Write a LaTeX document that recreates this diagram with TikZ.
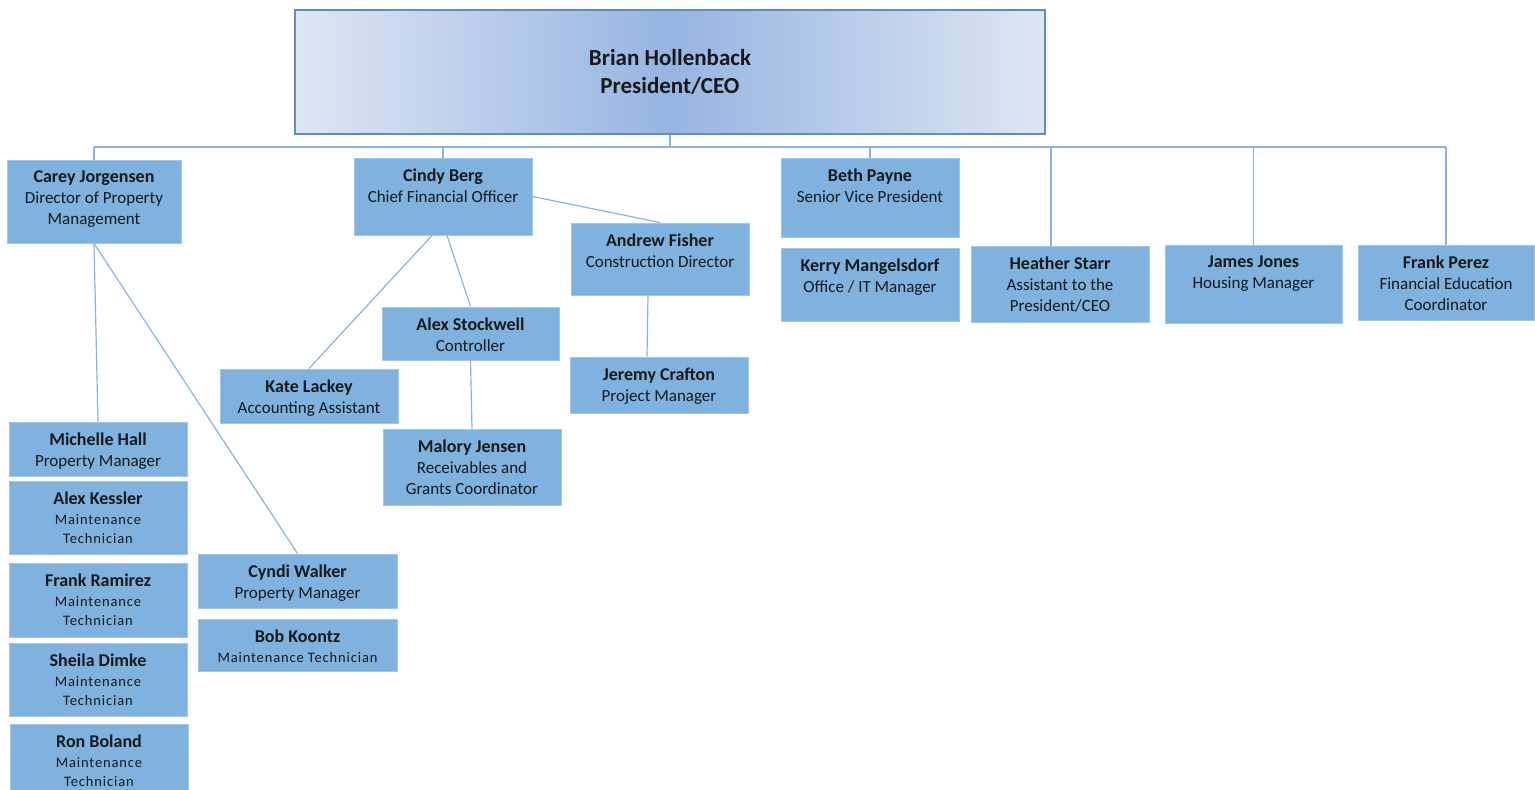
\documentclass[tikz,border=0pt]{standalone}
\usepackage{fontspec}
\setmainfont{Carlito}
\newfontfamily\spacedfont[LetterSpace=6]{Carlito}
\usetikzlibrary{fit}

\definecolor{boxfill}{RGB}{127,178,222}
\definecolor{boxedge}{RGB}{160,198,233}
\definecolor{linkblue}{RGB}{140,180,218}
\definecolor{ceomid}{RGB}{150,180,226}
\definecolor{ceoside}{RGB}{222,230,244}
\definecolor{ceoedge}{RGB}{95,142,188}
\definecolor{inktext}{RGB}{25,25,25}

% box from its two corners, text hung from the top edge
\newcommand{\staffbox}[6]{%
  \node[staff, fit={(#2,#3) (#4,#5)}] (#1) {};
  \node[stafftext] (#1-t) at ([yshift=-11pt]#1.north) {#6};
}
\newcommand{\maint}[1]{{\spacedfont\fontsize{14.5}{20}\selectfont #1}}
\newcommand{\who}[1]{{\fontsize{18}{21}\selectfont\bfseries #1}}

\begin{document}
\begin{tikzpicture}[x=1pt,y=-1pt,
    staff/.style={draw=boxedge, fill=boxfill, line width=1pt, inner sep=0pt},
    stafftext/.style={anchor=north, inner sep=0pt, align=center, text=inktext,
                      font=\fontsize{17}{21}\selectfont},
    ceo/.style={draw=ceoedge, line width=1.5pt, minimum width=750pt, minimum height=124pt,
                left color=ceoside, right color=ceoside, middle color=ceomid,
                align=center, text=inktext, font=\fontsize{23}{28}\selectfont\bfseries},
    link/.style={draw=linkblue, line width=1.2pt}]
            \useasboundingbox (0,0) rectangle (1535,790);

            % the president
            \node[ceo] (ceo) at (670,72) {Brian Hollenback\\President/CEO};

            % first row
            \staffbox{carey}{7}{160}{181}{243}{\who{Carey Jorgensen}\\Director of Property\\Management}
            \staffbox{cindy}{354}{158}{532}{235}{\who{Cindy Berg}\\Chief Financial Officer}
            \staffbox{beth}{781}{158}{959}{237}{\who{Beth Payne}\\Senior Vice President}
            \staffbox{kerry}{781}{248}{959}{321}{\who{Kerry Mangelsdorf}\\Office / IT Manager}
            \staffbox{heather}{971}{246}{1149}{322}{\who{Heather Starr}\\Assistant to the\\President/CEO}
            \staffbox{james}{1165}{245}{1342}{323}{\who{James Jones}\\Housing Manager}
            \staffbox{frankp}{1358}{245}{1534}{320}{\who{Frank Perez}\\Financial Education\\Coordinator}

            % finance and construction
            \staffbox{andrew}{571}{223}{749}{295}{\who{Andrew Fisher}\\Construction Director}
            \staffbox{jeremy}{570}{357}{748}{413}{\who{Jeremy Crafton}\\Project Manager}
            \staffbox{alexs}{382}{307}{559}{360}{\who{Alex Stockwell}\\Controller}
            \staffbox{kate}{220}{369}{398}{423}{\who{Kate Lackey}\\Accounting Assistant}
            \staffbox{malory}{383}{429}{561}{505}{\who{Malory Jensen}\\Receivables and\\Grants Coordinator}

            % property management
            \staffbox{michelle}{9}{422}{187}{476}{\who{Michelle Hall}\\Property Manager}
            \staffbox{alexk}{9}{481}{187}{554}{\who{Alex Kessler}\\[-1pt]\maint{Maintenance}\\[-2pt]\maint{Technician}}
            \staffbox{frankr}{9}{563}{187}{637}{\who{Frank Ramirez}\\[-1pt]\maint{Maintenance}\\[-2pt]\maint{Technician}}
            \staffbox{sheila}{9}{643}{187}{716}{\who{Sheila Dimke}\\[-1pt]\maint{Maintenance}\\[-2pt]\maint{Technician}}
            \staffbox{ron}{10}{724}{188}{790}{\who{Ron Boland}\\[-1pt]\maint{Maintenance}\\[-2pt]\maint{Technician}}
            \staffbox{cyndi}{198}{554}{397}{608}{\who{Cyndi Walker}\\Property Manager}
            \staffbox{bob}{198}{619}{397}{671}{\who{Bob Koontz}\\[-1pt]\maint{Maintenance Technician}}

            % the bus under the president
            \coordinate (bus) at (670,147);
            \coordinate (heather-top) at ([xshift=-9pt]heather.north);
            \draw[link] (ceo.south) -- (bus);
            \draw[link] (bus -| carey.north) -- (bus -| frankp.north);
            \foreach \n in {carey,cindy,beth,james,frankp}
                \draw[link] (bus -| \n.north) -- (\n.north);
            \draw[link] (bus -| heather-top) -- (heather-top);

            % reports
            \draw[link] (carey.south) -- (michelle.north);
            \draw[link] (carey.south) -- (cyndi.north);
            \draw[link] ([xshift=-11pt]cindy.south) -- (kate.north);
            \draw[link] ([xshift=4pt]cindy.south) -- (alexs.north);
            \draw[link] (cindy.east) -- (andrew.north);
            \draw[link] (alexs.south) -- (malory.north);
            \draw[link] ([xshift=-12pt]andrew.south) -- ([xshift=-12pt]jeremy.north);
\end{tikzpicture}
\end{document}
